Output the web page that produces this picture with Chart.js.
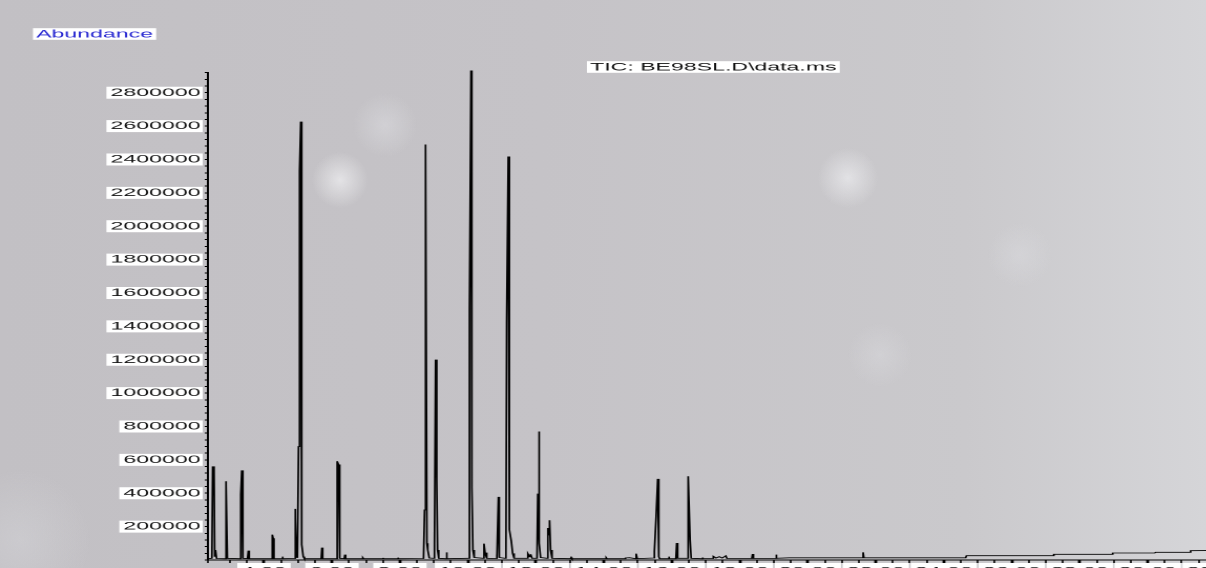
<!DOCTYPE html>
<html>
<head>
<meta charset="utf-8">
<script src="https://cdn.jsdelivr.net/npm/chart.js@4.4.0/dist/chart.umd.min.js"></script>
<style>
  html, body { margin: 0; padding: 0; width: 1206px; height: 568px; overflow: hidden; }
  body {
    background:
      radial-gradient(circle at 340px 180px, rgba(238,238,240,0.75) 0, rgba(238,238,240,0) 28px),
      radial-gradient(circle at 385px 125px, rgba(222,222,226,0.5) 0, rgba(222,222,226,0) 32px),
      radial-gradient(circle at 848px 178px, rgba(234,234,237,0.75) 0, rgba(234,234,237,0) 30px),
      radial-gradient(circle at 1020px 255px, rgba(218,218,222,0.5) 0, rgba(218,218,222,0) 32px),
      radial-gradient(circle at 880px 355px, rgba(218,218,222,0.45) 0, rgba(218,218,222,0) 32px),
      radial-gradient(circle at 20px 540px, rgba(214,214,218,0.45) 0, rgba(214,214,218,0) 70px),
      linear-gradient(90deg, #c2c0c4 0%, #c5c3c7 45%, #cac9cc 80%, #d5d5d8 100%);
  }
  #wrap { position: absolute; left: 0; top: 0; transform: scaleX(2.1); transform-origin: 0 0; }
</style>
</head>
<body>
<div id="wrap"><canvas id="chart" width="590" height="580"></canvas></div>
<script>
// TIC trace, retention time (min) and abundance
const rtMinutes = [
  2.370, 2.467, 2.490, 2.531, 2.549, 2.575, 2.605,
  2.848, 2.869, 2.898, 2.922,
  3.289, 3.316, 3.345, 3.368, 3.389,
  3.515, 3.539, 3.565,
  4.220, 4.244, 4.270, 4.294,
  4.514, 4.538, 4.564,
  4.887, 4.911, 4.934, 4.952, 4.984, 5.016, 5.046, 5.081, 5.110, 5.155, 5.190,
  5.683, 5.704, 5.727,
  6.127, 6.153, 6.192, 6.215, 6.241,
  6.362, 6.380, 6.403,
  6.900, 6.908, 6.930,
  7.490, 7.496, 7.520,
  7.930, 7.937, 7.960,
  8.694, 8.724, 8.739, 8.768, 8.794, 8.818, 8.862,
  8.980, 9.015, 9.047, 9.082, 9.106, 9.141,
  9.347, 9.367, 9.391,
  10.016, 10.046, 10.090, 10.116, 10.146, 10.184,
  10.448, 10.472, 10.507, 10.542, 10.566,
  10.825, 10.836, 10.850,
  10.868, 10.895, 10.921,
  11.090, 11.118, 11.139, 11.186, 11.206, 11.233, 11.277, 11.315, 11.359,
  11.741, 11.764, 11.814, 11.844, 11.888,
  12.032, 12.055, 12.085, 12.105, 12.137,
  12.325, 12.352, 12.372, 12.402, 12.431, 12.475,
  13.020, 13.039, 13.060,
  14.050, 14.068, 14.090,
  14.620, 14.635, 14.752, 14.928, 14.949, 14.981,
  15.470, 15.486, 15.536, 15.583, 15.615, 15.640,
  15.890, 15.907, 15.930,
  16.118, 16.142, 16.171,
  16.441, 16.465, 16.494, 16.535, 16.568,
  16.880, 16.897, 16.920,
  17.200, 17.220, 17.300, 17.396, 17.480, 17.587, 17.620,
  18.350, 18.374, 18.400,
  19.040, 19.062, 19.090,
  19.452,
  21.600, 21.626, 21.650,
  24.643, 24.667, 27.208, 27.237, 28.941, 28.970, 30.204, 30.234, 31.233, 31.262, 32.500
];
const abundance = [
  8000, 10000, 561000, 530000, 22000, 60000, 9000,
  8000, 472000, 450000, 10000,
  8000, 392000, 537000, 60000, 10000,
  8000, 56000, 8000,
  8000, 152000, 130000, 8000,
  8000, 20000, 8000,
  9000, 306000, 250000, 15000, 20000, 680000, 2330000, 2627000, 92000, 20000, 8000,
  8000, 74000, 8000,
  8000, 592000, 572000, 40000, 10000,
  8000, 32000, 8000,
  8000, 14000, 8000,
  8000, 13000, 8000,
  8000, 14000, 8000,
  9000, 300000, 1830000, 2490000, 100000, 60000, 12000,
  10000, 92000, 1201000, 477000, 60000, 10000,
  8000, 46000, 8000,
  10000, 1500000, 2933000, 434000, 60000, 15000,
  10000, 98000, 40000, 44000, 10000,
  9000, 32000, 9000,
  9000, 378000, 15000,
  10000, 30000, 1420000, 2418000, 248000, 182000, 112000, 40000, 10000,
  10000, 38000, 20000, 35000, 10000,
  10000, 398000, 770000, 100000, 15000,
  10000, 192000, 150000, 238000, 60000, 10000,
  8000, 15000, 8000,
  8000, 14000, 8000,
  8000, 12000, 14000, 8000, 38000, 8000,
  12000, 52000, 262000, 486000, 20000, 8000,
  8000, 20000, 8000,
  8000, 102000, 10000,
  10000, 92000, 502000, 122000, 10000,
  8000, 15000, 9000,
  9000, 22000, 12000, 20000, 12000, 25000, 9000,
  9000, 36000, 9000,
  9000, 32000, 10000,
  13000,
  13000, 46000, 13000,
  13000, 26000, 26000, 34000, 34000, 42000, 42000, 46000, 46000, 56000, 58000
];

const xRange = [2.35, 32.5];
const xMinorStep = 0.5, xLabelStep = 2;
const yMax = 2920000;
const yMinorStep = 40000, yLabelStep = 200000;
const yAxisLabel = 'Abundance';
const traceTitle = 'TIC: BE98SL.D\\data.ms';

const points = rtMinutes.map((t, i) => ({ x: t, y: abundance[i] }));
const labelFont = { family: 'Liberation Sans, Arial, sans-serif', size: 11, lineHeight: 1 };
const hideEmpty = c => (c.tick && c.tick.label ? '#ffffff' : 'rgba(0,0,0,0)');

// boxed texts drawn like the instrument printout
const boxTexts = {
  id: 'boxTexts',
  afterDraw(chart) {
    const ctx = chart.ctx;
    ctx.save();
    ctx.font = '11px "Liberation Sans", Arial, sans-serif';
    ctx.textBaseline = 'middle';
    const items = [
      { text: yAxisLabel, x: 17.2, y: 34, color: '#2a2ad2' },
      { text: traceTitle, x: 281, y: 67, color: '#111111' }
    ];
    items.forEach(it => {
      const w = ctx.measureText(it.text).width;
      ctx.fillStyle = '#ffffff';
      ctx.fillRect(it.x - 1.5, it.y - 5.8, w + 3, 11.6);
      ctx.fillStyle = it.color;
      ctx.fillText(it.text, it.x, it.y + 0.5);
    });
    ctx.restore();
  }
};

const ctx = document.getElementById('chart').getContext('2d');
const chart = new Chart(ctx, {
  type: 'line',
  data: {
    datasets: [{
      data: points,
      borderColor: '#000000',
      borderWidth: 0.85,
      pointRadius: 0,
      tension: 0,
      fill: false,
      clip: false
    }]
  },
  options: {
    responsive: false,
    devicePixelRatio: 2,
    animation: false,
    layout: { padding: { top: 72.7, right: 2.3, bottom: 0, left: 0 } },
    plugins: { legend: { display: false }, tooltip: { enabled: false }, title: { display: false } },
    scales: {
      x: {
        type: 'linear',
        min: xRange[0],
        max: xRange[1],
        border: { display: true, color: '#000000', width: 1 },
        grid: {
          drawOnChartArea: false,
          drawTicks: true,
          tickLength: 3,
          tickColor: '#000000',
          tickWidth: c => (c.tick && Math.abs(c.tick.value % xLabelStep) < 1e-6 ? 1.4 : 0.8)
        },
        ticks: {
          stepSize: xMinorStep,
          autoSkip: false,
          maxRotation: 0,
          padding: 3,
          color: '#111111',
          font: labelFont,
          showLabelBackdrop: true,
          backdropColor: hideEmpty,
          backdropPadding: { top: 3, bottom: 1, left: 2, right: 2 },
          callback: v => (Math.abs(v % xLabelStep) < 1e-6 ? v.toFixed(2) : '')
        },
        afterFit: s => { s.height = 20; }
      },
      y: {
        type: 'linear',
        min: 0,
        max: yMax,
        border: { display: true, color: '#000000', width: 1 },
        grid: {
          drawOnChartArea: false,
          drawTicks: true,
          tickLength: 1.5,
          tickColor: '#000000'
        },
        ticks: {
          stepSize: yMinorStep,
          autoSkip: false,
          padding: 2,
          color: '#161616',
          font: labelFont,
          showLabelBackdrop: true,
          backdropColor: hideEmpty,
          backdropPadding: { top: 0.5, bottom: 0.5, left: 2, right: 1 },
          callback: v => (v > 0 && v % yLabelStep === 0 ? String(v) : '')
        },
        afterFit: s => { s.width = 99; }
      }
    }
  },
  plugins: [boxTexts]
});
</script>
</body>
</html>
